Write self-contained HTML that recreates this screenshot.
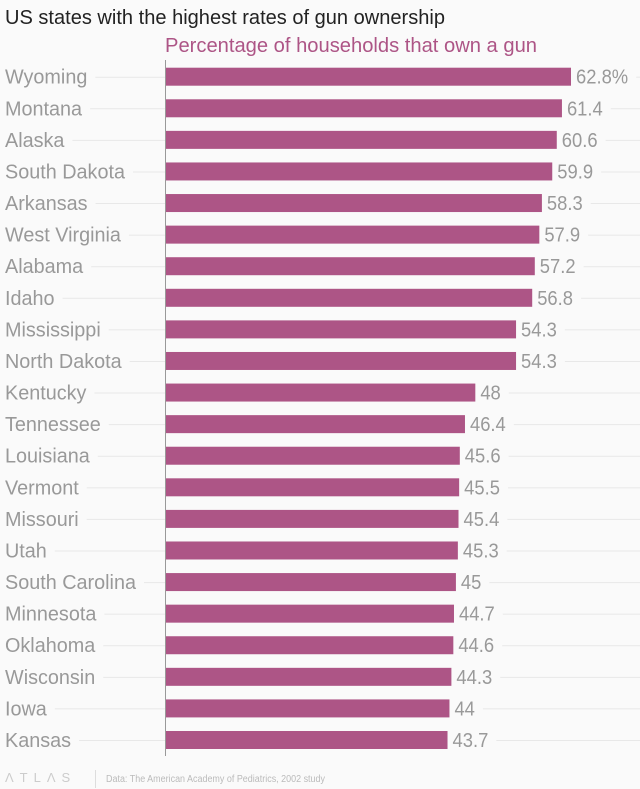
<!DOCTYPE html>
<html><head><meta charset="utf-8"><style>
body{margin:0;background:#fafafa;font-family:"Liberation Sans",sans-serif;}
svg{display:block}
</style></head><body>
<svg id="c" width="640" height="789">
<text x="5" y="24" font-size="20" fill="#222" textLength="440" lengthAdjust="spacingAndGlyphs">US states with the highest rates of gun ownership</text>
<text x="165" y="52" font-size="20" fill="#ad5586" textLength="372" lengthAdjust="spacingAndGlyphs">Percentage of households that own a gun</text>
<g id="grid"></g><g id="bars"></g>
<line x1="165.5" y1="60" x2="165.5" y2="756" stroke="#999" stroke-width="1"/>
<text x="5" y="782" font-size="13" fill="#ccc" letter-spacing="6">ΛTLΛS</text>
<line x1="95.5" y1="770" x2="95.5" y2="788" stroke="#ddd"/>
<text x="106" y="782" font-size="10" fill="#bbb" textLength="219" lengthAdjust="spacingAndGlyphs">Data: The American Academy of Pediatrics, 2002 study</text>
</svg>
<script>
const states=["Wyoming","Montana","Alaska","South Dakota","Arkansas","West Virginia","Alabama","Idaho","Mississippi","North Dakota","Kentucky","Tennessee","Louisiana","Vermont","Missouri","Utah","South Carolina","Minnesota","Oklahoma","Wisconsin","Iowa","Kansas"];
const values=[62.8,61.4,60.6,59.9,58.3,57.9,57.2,56.8,54.3,54.3,48,46.4,45.6,45.5,45.4,45.3,45,44.7,44.6,44.3,44,43.7];
const labels=["62.8%","61.4","60.6","59.9","58.3","57.9","57.2","56.8","54.3","54.3","48","46.4","45.6","45.5","45.4","45.3","45","44.7","44.6","44.3","44","43.7"];
const NS="http://www.w3.org/2000/svg";
const x0=165,k=406/62.8,y0=76.7,step=(740-76.7)/21,bh=18;
const xs=v=>x0+v*k, ys=i=>y0+i*step;
const g=document.getElementById('grid'),b=document.getElementById('bars');
function mk(t,a,p){const e=document.createElementNS(NS,t);for(const q in a)e.setAttribute(q,a[q]);p.appendChild(e);return e;}
states.forEach((s,i)=>{
 const cy=ys(i);
 const tl=mk('text',{x:5,y:cy+7,'font-size':20,fill:'#999'},b);tl.textContent=s;
 
 
 let w=tl.getComputedTextLength()*0.99;
 tl.setAttribute('textLength',w);tl.setAttribute('lengthAdjust','spacingAndGlyphs');
 const g1=mk('line',{x1:5+w+8,x2:x0,y1:cy+0.5,y2:cy+0.5,stroke:'#e8e8e8'},g);
 
 
 const r=mk('rect',{x:x0+1,y:cy-bh/2,width:xs(values[i])-x0-1,height:bh,fill:'#ad5586'},b);
 
 
 const vt=mk('text',{x:xs(values[i])+5,y:cy+7,'font-size':20,fill:'#999'},b);vt.textContent=labels[i];
 
 
 const vw=vt.getComputedTextLength()*0.92;
 vt.setAttribute('textLength',vw);vt.setAttribute('lengthAdjust','spacingAndGlyphs');
 const g2=mk('line',{x1:xs(values[i])+5+vw+8,x2:640,y1:cy+0.5,y2:cy+0.5,stroke:'#e8e8e8'},g);
 
 
});
</script>
</body></html>
